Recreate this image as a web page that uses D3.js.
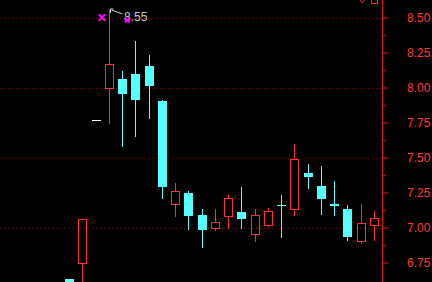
<!DOCTYPE html>
<html>
<head>
<meta charset="utf-8">
<script src="https://cdn.jsdelivr.net/npm/d3@7"></script>
<style>
  html, body { margin: 0; padding: 0; background: #000; overflow: hidden; }
</style>
</head>
<body>
<div id="chart"></div>
<script>
// daily candles, left to right (only the part that is on screen)
var opens  = [6.63, 6.75, 7.77, 8.00, 8.06, 8.10, 8.15, 7.90, 7.17, 7.25, 7.09, 7.00, 7.08, 7.11, 6.95, 7.02, 7.16, 7.13, 7.39, 7.30, 7.17, 7.13, 6.90, 7.02];
var highs  = [6.63, 7.06, 7.77, 8.55, 8.12, 8.33, 8.23, 7.91, 7.32, 7.26, 7.13, 7.13, 7.23, 7.29, 7.13, 7.14, 7.23, 7.60, 7.45, 7.44, 7.33, 7.16, 7.17, 7.12];
var lows   = [6.40, 6.55, 7.77, 7.75, 7.58, 7.65, 7.78, 7.21, 7.08, 6.99, 6.86, 6.98, 7.00, 7.00, 6.90, 7.01, 6.93, 7.09, 7.28, 7.10, 7.09, 6.91, 6.89, 6.91];
var closes = [6.42, 7.06, 7.77, 8.17, 7.95, 7.91, 8.01, 7.29, 7.26, 7.08, 6.98, 7.04, 7.21, 7.06, 7.09, 7.12, 7.16, 7.49, 7.36, 7.20, 7.15, 6.93, 7.03, 7.07];

var yTicks = [8.50, 8.25, 8.00, 7.75, 7.50, 7.25, 7.00, 6.75];
var gridLevels = [8.50, 8.00, 7.50, 7.00];
var markerSpots = [[2.45, 8.50, 3.2], [4.35, 8.48, 2.2]];   // [candle index, price, half size]

var width = 432, height = 282;
var axisX = 382.5;
var upColor = "#ff3232", downColor = "#54ffff", flatColor = "#ffffff";

var svg = d3.select("#chart").append("svg")
    .attr("width", width)
    .attr("height", height)
    .style("display", "block")
    .style("background", "#000");

var n = opens.length;
var x = d3.scaleLinear().domain([0, n - 1]).range([65, 370]);   // left edge of each candle
var y = d3.scaleLinear().domain([8.5, 6.75]).range([17.5, 262.5]);

var left = function(i) { return Math.round(x(i)); };
var py = function(v) { return Math.round(y(v)); };

// dotted grid
svg.append("g").selectAll("line")
    .data(gridLevels)
    .enter().append("line")
    .attr("x1", 0).attr("x2", axisX)
    .attr("y1", function(d) { return py(d) + 0.5; })
    .attr("y2", function(d) { return py(d) + 0.5; })
    .attr("stroke", "#760c0c")
    .attr("stroke-dasharray", "1,3");

// right axis
var yAxis = d3.axisRight(y)
    .tickValues(yTicks)
    .tickSize(6)
    .tickFormat(d3.format(".2f"));

var ax = svg.append("g")
    .attr("transform", "translate(" + axisX + ",0)")
    .call(yAxis);
ax.select(".domain").remove();
ax.selectAll(".tick line").attr("stroke", "#e01818");
ax.selectAll(".tick text")
    .attr("x", 24.5)
    .attr("fill", "#ff3c3c")
    .style("font-family", "'Liberation Sans', Arial, sans-serif")
    .style("font-size", "12px");

// minor ticks between the labelled ones
var minor = d3.pairs(yTicks).map(function(p) { return (p[0] + p[1]) / 2; });
ax.append("g").selectAll("line")
    .data(minor)
    .enter().append("line")
    .attr("x1", 0).attr("x2", 3)
    .attr("y1", function(d) { return py(d) + 0.5; })
    .attr("y2", function(d) { return py(d) + 0.5; })
    .attr("stroke", "#e01818");

svg.append("line")
    .attr("x1", axisX).attr("x2", axisX)
    .attr("y1", 0).attr("y2", height)
    .attr("stroke", "#e01818");

// candles
var candles = svg.append("g");
d3.range(n).forEach(function(i) {
    var o = opens[i], h = highs[i], l = lows[i], c = closes[i];
    var lx = left(i), cx = lx + 4.5;
    var g = candles.append("g");

    if (h === l) {
        g.append("rect")
            .attr("x", lx).attr("y", py(c))
            .attr("width", 9).attr("height", 1)
            .attr("fill", flatColor);
    } else if (c > o) {
        var top = py(c), bot = py(o);
        g.append("line")
            .attr("x1", cx).attr("x2", cx)
            .attr("y1", py(h)).attr("y2", top)
            .attr("stroke", upColor);
        g.append("line")
            .attr("x1", cx).attr("x2", cx)
            .attr("y1", bot + 1).attr("y2", py(l) + 1)
            .attr("stroke", upColor);
        g.append("rect")
            .attr("x", lx + 0.5).attr("y", top + 0.5)
            .attr("width", 8).attr("height", bot - top)
            .attr("fill", "none")
            .attr("stroke", upColor);
    } else {
        g.append("line")
            .attr("x1", cx).attr("x2", cx)
            .attr("y1", py(h)).attr("y2", py(l) + 1)
            .attr("stroke", downColor);
        g.append("rect")
            .attr("x", lx).attr("y", py(o))
            .attr("width", 9).attr("height", Math.max(1, py(c) - py(o)))
            .attr("fill", downColor);
    }
});

// highest price marker
var hi = d3.maxIndex(highs);
var hx = left(hi) + 4.5, hy = y(highs[hi]);
svg.append("path")
    .attr("d", "M" + (hx + 1) + "," + (hy + 2.5) + "V" + (hy - 1.5) + "H" + (hx + 4)
             + "M" + (hx + 2) + "," + (hy - 0.5) + "L" + (hx + 13) + "," + (hy + 3.5))
    .attr("fill", "none")
    .attr("stroke", "#d8d8d8");
svg.append("text")
    .attr("x", hx + 14.5)
    .attr("y", hy + 10.5)
    .attr("fill", "#c8c8c8")
    .style("font-family", "'Liberation Sans', Arial, sans-serif")
    .style("font-size", "12px")
    .text(d3.format(".2f")(highs[hi]));

// magenta markers
svg.append("g").selectAll("path")
    .data(markerSpots)
    .enter().append("path")
    .attr("d", function(d) {
        var cx = x(d[0]) + 4.5, cy = y(d[1]), s = d[2];
        return "M" + (cx - s) + "," + (cy - s) + "L" + (cx + s) + "," + (cy + s)
             + "M" + (cx + s) + "," + (cy - s) + "L" + (cx - s) + "," + (cy + s);
    })
    .attr("fill", "none")
    .attr("stroke", "#ff00ff")
    .attr("stroke-width", 2);

// clipped icons at the top right
svg.append("path")
    .attr("d", "M359.5,-1 L362.5,3 L365.5,-1")
    .attr("fill", "none").attr("stroke", upColor);
svg.append("rect")
    .attr("x", 371.5).attr("y", -4).attr("width", 6).attr("height", 7.5)
    .attr("fill", "none").attr("stroke", upColor);
</script>
</body>
</html>
